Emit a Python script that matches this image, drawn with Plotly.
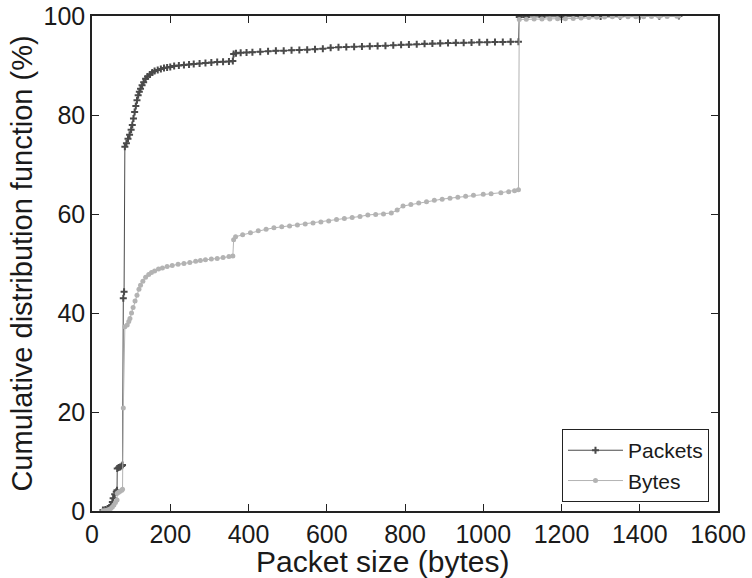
import plotly.graph_objects as go

# Packet-size CDF, packets vs. bytes
packets_size = [28, 34, 40, 44, 48, 52, 54, 58, 62, 64, 64.5, 68, 72, 76, 78, 80, 82, 84,
                88, 92, 96, 100, 103, 106, 109, 112, 115, 118, 121, 124, 128, 132, 137,
                142, 148, 154, 160, 168, 176, 184, 192, 200, 210, 222, 235, 248, 260, 275,
                290, 305, 320, 335, 350, 360, 362, 368, 380, 395, 410, 430, 450, 470, 490,
                510, 530, 550, 570, 590, 610, 630, 650, 670, 690, 710, 730, 750, 770, 790,
                810, 830, 850, 870, 890, 910, 930, 950, 970, 990, 1010, 1030, 1050, 1070,
                1090, 1092, 1110, 1150, 1200, 1250, 1300, 1350, 1400, 1450, 1500]
packets_cdf = [0.2, 0.3, 0.5, 0.7, 1.0, 1.8, 2.6, 3.4, 3.9, 4.2, 8.6, 8.8, 8.9, 9.1, 9.3, 43.0,
               44.3, 73.6, 74.3, 75.2, 76.0, 77.0, 78.0, 79.3, 80.6, 81.8, 83.0, 84.0, 84.7,
               85.3, 86.0, 86.6, 87.3, 87.8, 88.2, 88.6, 88.9, 89.1, 89.3, 89.5, 89.6, 89.7,
               89.9, 90.0, 90.1, 90.2, 90.3, 90.4, 90.5, 90.6, 90.7, 90.75, 90.8, 90.9, 92.3,
               92.5, 92.6, 92.65, 92.7, 92.8, 92.9, 93.0, 93.0, 93.1, 93.15, 93.2, 93.3, 93.4,
               93.6, 93.7, 93.75, 93.8, 93.85, 93.9, 93.95, 94.0, 94.1, 94.2, 94.25, 94.3,
               94.4, 94.45, 94.5, 94.55, 94.6, 94.6, 94.65, 94.7, 94.7, 94.75, 94.75, 94.8,
               94.8, 99.8, 99.8, 99.85, 99.85, 99.9, 99.9, 99.95, 99.95, 99.97, 100.0]

bytes_size = [28, 34, 40, 44, 48, 52, 56, 60, 64, 64.5, 68, 72, 76, 78, 80, 84, 90, 94, 97,
              101, 105, 110, 115, 120, 124, 130, 137, 145, 152, 160, 170, 180, 192, 205, 220,
              235, 250, 265, 277, 290, 305, 320, 335, 350, 360, 362, 367, 385, 405, 425, 445,
              465, 485, 505, 525, 545, 565, 585, 605, 625, 645, 665, 685, 705, 725, 745, 765,
              780, 795, 815, 835, 855, 875, 895, 915, 935, 955, 975, 1000, 1020, 1045, 1065,
              1080, 1090, 1092, 1110, 1130, 1150, 1170, 1190, 1210, 1230, 1250, 1270, 1290,
              1310, 1330, 1350, 1370, 1390, 1410, 1430, 1450, 1470, 1495, 1500]
bytes_cdf = [0.05, 0.1, 0.2, 0.3, 0.5, 0.8, 1.2, 1.7, 2.2, 3.6, 3.8, 4.0, 4.2, 4.4, 20.8, 37.2,
             37.6, 38.3, 38.9, 40.0, 41.1, 42.4, 43.6, 44.8, 45.6, 46.4, 47.2, 47.8, 48.2,
             48.5, 48.9, 49.1, 49.4, 49.6, 49.85, 50.0, 50.2, 50.45, 50.6, 50.75, 50.9, 51.0,
             51.2, 51.4, 51.5, 54.8, 55.4, 55.8, 56.2, 56.6, 56.9, 57.2, 57.4, 57.6, 57.8,
             58.0, 58.2, 58.4, 58.6, 58.9, 59.1, 59.3, 59.5, 59.8, 59.9, 60.0, 60.2, 60.8,
             61.6, 61.9, 62.2, 62.5, 62.8, 63.0, 63.2, 63.4, 63.6, 63.8, 64.0, 64.1, 64.3,
             64.5, 64.7, 64.9, 99.3, 99.35, 99.4, 99.4, 99.4, 99.45, 99.45, 99.5, 99.6, 99.7,
             99.75, 99.8, 99.85, 99.85, 99.85, 99.85, 99.87, 99.88, 99.9, 99.9, 99.95, 100.0]

x_ticks = [0, 200, 400, 600, 800, 1000, 1200, 1400, 1600]
y_ticks = [0, 20, 40, 60, 80, 100]

FONT = "Liberation Sans, Arial, sans-serif"
DARK = "#4a4a4a"
LIGHT = "#b3b3b3"
TEXT = "#1a1a1a"

fig = go.Figure()
fig.add_trace(go.Scatter(
    x=packets_size, y=packets_cdf, name="Packets", mode="lines+markers",
    line=dict(color=DARK, width=1),
    marker=dict(symbol="cross-thin", size=5, color=DARK, line=dict(color=DARK, width=2)),
))
fig.add_trace(go.Scatter(
    x=bytes_size, y=bytes_cdf, name="Bytes", mode="lines+markers",
    line=dict(color=LIGHT, width=1),
    marker=dict(symbol="circle", size=5, color=LIGHT),
))

axis_common = dict(
    showline=True, linecolor="#222222", linewidth=1.5, mirror="ticks",
    ticks="inside", ticklen=7, tickwidth=1, tickcolor="#222222",
    showgrid=False, zeroline=False,
    tickfont=dict(family=FONT, size=25, color=TEXT),
)

fig.update_layout(
    width=752, height=578,
    margin=dict(l=92, r=34, t=16, b=67),
    paper_bgcolor="white", plot_bgcolor="white",
    font=dict(family=FONT, color=TEXT),
    showlegend=True,
    legend=dict(
        x=0.9856, y=0.018, xanchor="right", yanchor="bottom",
        bgcolor="white", bordercolor="#222222", borderwidth=1,
        font=dict(family=FONT, size=21, color=TEXT),
        itemwidth=55, tracegroupgap=0,
        entrywidth=150, entrywidthmode="pixels",
    ),
    xaxis=dict(range=[0, 1600], tickvals=x_ticks, automargin=False, **axis_common),
    yaxis=dict(
        range=[0, 100], tickvals=y_ticks,
        title=dict(text="Cumulative distribution function (%)",
                   font=dict(family=FONT, size=29), standoff=2),
        automargin=False, **axis_common,
    ),
    annotations=[dict(
        text="Packet size (bytes)", xref="paper", yref="paper",
        x=0.464, y=-0.102, xanchor="center", yanchor="middle",
        showarrow=False, font=dict(family=FONT, size=30, color=TEXT),
    )],
)

fig.write_html("out.html")
